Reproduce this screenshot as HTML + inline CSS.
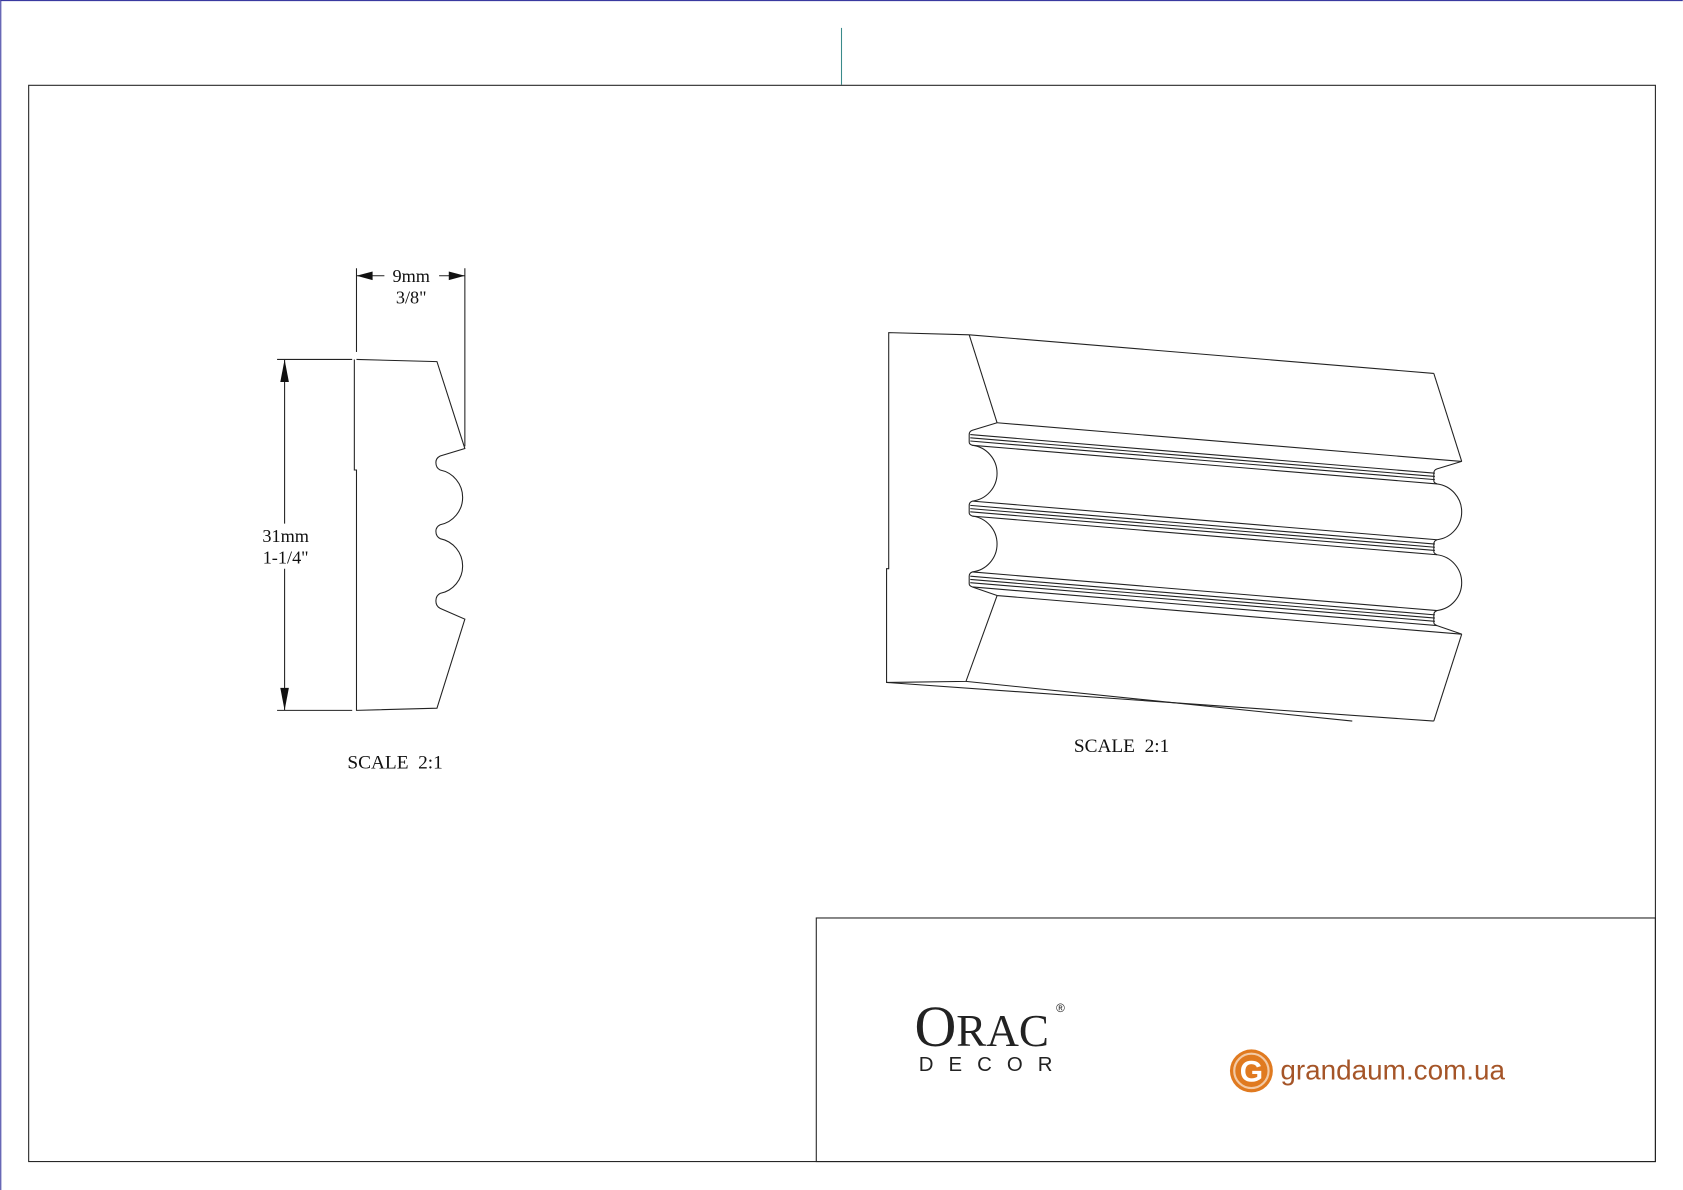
<!DOCTYPE html>
<html><head><meta charset="utf-8"><style>
html,body{margin:0;padding:0;background:#fff;}
svg{display:block;}
</style></head><body>
<svg width="1683" height="1190" viewBox="0 0 1568 1109" xmlns="http://www.w3.org/2000/svg" font-family="'Liberation Serif', serif">
<rect x="0" y="0" width="1568" height="1109" fill="#fff"/>
<line x1="0.5" y1="0" x2="0.5" y2="1109" stroke="#3a3aa0" stroke-width="1"/>
<line x1="0" y1="0.5" x2="1568" y2="0.5" stroke="#3a3aa0" stroke-width="1"/>
<line x1="784" y1="26" x2="784" y2="79" stroke="#3a8a8a" stroke-width="1"/>
<g fill="none" stroke="#222" stroke-width="1">
<rect x="26.5" y="79.5" width="1516" height="1003"/>
<rect x="760.5" y="855.5" width="782" height="227"/>

<path d="M332,335 L407,337 L433,418 L410,425 Q406,427 406,431 Q406,436 410,438 A26,26 0 0 1 410,489 Q406,491 406,495 Q406,500 410,502 A26,26 0 0 1 410,553 Q406,555 406,560 Q406,565 410,567 L433,577 L407,660 L332,662 L332,438 L330,438 L330,335"/>
<line x1="332" y1="250" x2="332" y2="328"/>
<line x1="433" y1="250" x2="433" y2="416"/>
<line x1="258" y1="335" x2="328" y2="335"/>
<line x1="258" y1="662" x2="328" y2="662"/>
<line x1="332" y1="257" x2="358" y2="257"/>
<line x1="409" y1="257" x2="433" y2="257"/>
<line x1="265" y1="335" x2="265" y2="488"/>
<line x1="265" y1="530" x2="265" y2="662"/>

<path d="M903,312 L828,310 L828,530 L826,530 L826,636 L900,635 L929,555"/>
<line x1="903" y1="312" x2="1336" y2="348"/>
<line x1="903" y1="312" x2="929" y2="394"/>
<line x1="1336" y1="348" x2="1362" y2="430"/>
<line x1="826" y1="636" x2="1336" y2="672"/>
<line x1="900" y1="635" x2="1260" y2="672"/>
<line x1="1362" y1="591" x2="1336" y2="672"/>
<path id="prof" d="M929,394 L906,401 Q903,402 903,405 L903,412 Q903,414 906,415 A26.2,26.2 0 0 1 906,467 Q903,468 903,471 L903,478 Q903,480 906,481 A26.2,26.2 0 0 1 906,533 Q903,534 903,537 L903,544 Q903,546 906,547 L929,555"/>
<use href="#prof" transform="translate(433,36)"/>
<line x1="929" y1="394" x2="1362" y2="430"/>
<line x1="929" y1="555" x2="1362" y2="591"/>
<g>
<line x1="904" y1="405" x2="1337" y2="441"/>
<line x1="904" y1="408" x2="1337" y2="444"/>
<line x1="904" y1="411" x2="1337" y2="447"/>
<line x1="906" y1="415" x2="1339" y2="451"/>
<line x1="906" y1="467" x2="1339" y2="503"/>
<line x1="904" y1="471" x2="1337" y2="507"/>
<line x1="904" y1="474" x2="1337" y2="510"/>
<line x1="904" y1="477" x2="1337" y2="513"/>
<line x1="906" y1="481" x2="1339" y2="517"/>
<line x1="906" y1="533" x2="1339" y2="569"/>
<line x1="904" y1="537" x2="1337" y2="573"/>
<line x1="904" y1="540" x2="1337" y2="576"/>
<line x1="904" y1="543" x2="1337" y2="579"/>
<line x1="906" y1="547" x2="1339" y2="583"/>
</g>
</g>
<g fill="#111">
<polygon points="332,257 347,253 347,261"/>
<polygon points="433,257 418,253 418,261"/>
<polygon points="265,335 261,356 269,356"/>
<polygon points="265,662 261,641 269,641"/>
</g>
<g fill="#111" font-size="17" text-anchor="middle">
<text x="383" y="263">9mm</text>
<text x="383" y="283">3/8"</text>
<text x="266" y="505">31mm</text>
<text x="266" y="525">1-1/4"</text>
<text x="368" y="716" font-size="18" xml:space="preserve">SCALE  2:1</text>
<text x="1045" y="701" font-size="18" xml:space="preserve">SCALE  2:1</text>
</g>
<g fill="#222">
<text x="852" y="975" font-size="54" font-family="'Liberation Serif', serif">O</text>
<text x="891" y="975" font-size="42" font-family="'Liberation Serif', serif">RAC</text>
<text x="984" y="943" font-size="11" font-family="'Liberation Sans', sans-serif">®</text>
<text x="856" y="998" font-size="19" letter-spacing="14" font-family="'Liberation Sans', sans-serif">DECOR</text>
</g>
<circle cx="1166" cy="998" r="20" fill="#e07a20"/>
<circle cx="1166" cy="998" r="16" fill="none" stroke="#fff" stroke-width="2" opacity="0.6"/>
<text x="1166" y="1008" font-size="28" font-weight="bold" fill="#fff" text-anchor="middle" font-family="'Liberation Sans', sans-serif">G</text>
<text x="1193" y="1006" font-size="26" fill="#a55528" font-family="'Liberation Sans', sans-serif">grandaum.com.ua</text>
</svg>
</body></html>
